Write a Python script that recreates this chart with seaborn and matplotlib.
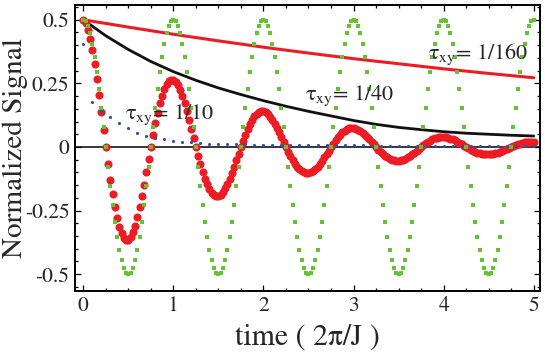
import numpy as np
import matplotlib
matplotlib.use('Agg')
import matplotlib.pyplot as plt
from matplotlib.ticker import MultipleLocator, FixedLocator, FixedFormatter
import seaborn as sns

# time axis samples (units of 2pi/J)
t_osc = np.linspace(0, 5, 201)
t_blue = np.linspace(0, 5, 51)
t_black = np.linspace(0, 5, 21)
t_redline = np.linspace(0, 5, 11)

# green squares: undamped oscillation
green_sig = [
    0.5, 0.494, 0.476, 0.446, 0.405, 0.354, 0.294, 0.227, 0.155, 0.078, 0.0, -0.078, -0.155, -0.227, -0.294, -0.354, -0.405, -0.446, -0.476, -0.494,
    -0.5, -0.494, -0.476, -0.446, -0.405, -0.354, -0.294, -0.227, -0.155, -0.078, 0.0, 0.078, 0.155, 0.227, 0.294, 0.354, 0.405, 0.446, 0.476, 0.494,
    0.5, 0.494, 0.476, 0.446, 0.405, 0.354, 0.294, 0.227, 0.155, 0.078, 0.0, -0.078, -0.155, -0.227, -0.294, -0.354, -0.405, -0.446, -0.476, -0.494,
    -0.5, -0.494, -0.476, -0.446, -0.405, -0.354, -0.294, -0.227, -0.155, -0.078, 0.0, 0.078, 0.155, 0.227, 0.294, 0.354, 0.405, 0.446, 0.476, 0.494,
    0.5, 0.494, 0.476, 0.446, 0.405, 0.354, 0.294, 0.227, 0.155, 0.078, 0.0, -0.078, -0.155, -0.227, -0.294, -0.354, -0.405, -0.446, -0.476, -0.494,
    -0.5, -0.494, -0.476, -0.446, -0.405, -0.354, -0.294, -0.227, -0.155, -0.078, 0.0, 0.078, 0.155, 0.227, 0.294, 0.354, 0.405, 0.446, 0.476, 0.494,
    0.5, 0.494, 0.476, 0.446, 0.405, 0.354, 0.294, 0.227, 0.155, 0.078, 0.0, -0.078, -0.155, -0.227, -0.294, -0.354, -0.405, -0.446, -0.476, -0.494,
    -0.5, -0.494, -0.476, -0.446, -0.405, -0.354, -0.294, -0.227, -0.155, -0.078, 0.0, 0.078, 0.155, 0.227, 0.294, 0.354, 0.405, 0.446, 0.476, 0.494,
    0.5, 0.494, 0.476, 0.446, 0.405, 0.354, 0.294, 0.227, 0.155, 0.078, 0.0, -0.078, -0.155, -0.227, -0.294, -0.354, -0.405, -0.446, -0.476, -0.494,
    -0.5, -0.494, -0.476, -0.446, -0.405, -0.354, -0.294, -0.227, -0.155, -0.078, 0.0, 0.078, 0.155, 0.227, 0.294, 0.354, 0.405, 0.446, 0.476, 0.494,
    0.5]

# red circles: damped oscillation
red_sig = [
    0.500, 0.486, 0.461, 0.425, 0.380, 0.326, 0.267, 0.203, 0.136, 0.068,
    0.000, -0.066, -0.128, -0.185, -0.235, -0.278, -0.314, -0.340, -0.357, -0.365,
    -0.364, -0.353, -0.335, -0.309, -0.276, -0.237, -0.194, -0.148, -0.099, -0.049,
    0.000, 0.048, 0.093, 0.134, 0.171, 0.202, 0.228, 0.247, 0.260, 0.265,
    0.264, 0.257, 0.244, 0.225, 0.201, 0.173, 0.141, 0.107, 0.072, 0.036,
    0.000, -0.035, -0.068, -0.098, -0.124, -0.147, -0.166, -0.180, -0.189, -0.193,
    -0.192, -0.187, -0.177, -0.163, -0.146, -0.126, -0.103, -0.078, -0.052, -0.026,
    0.000, 0.025, 0.049, 0.071, 0.090, 0.107, 0.121, 0.131, 0.137, 0.140,
    0.140, 0.136, 0.129, 0.119, 0.106, 0.091, 0.075, 0.057, 0.038, 0.019,
    0.000, -0.018, -0.036, -0.052, -0.066, -0.078, -0.088, -0.095, -0.100, -0.102,
    -0.102, -0.099, -0.094, -0.086, -0.077, -0.066, -0.054, -0.041, -0.028, -0.014,
    0.000, 0.013, 0.026, 0.038, 0.048, 0.057, 0.064, 0.069, 0.073, 0.074,
    0.074, 0.072, 0.068, 0.063, 0.056, 0.048, 0.040, 0.030, 0.020, 0.010,
    0.000, -0.010, -0.019, -0.027, -0.035, -0.041, -0.046, -0.050, -0.053, -0.054,
    -0.054, -0.052, -0.050, -0.046, -0.041, -0.035, -0.029, -0.022, -0.015, -0.007,
    0.000, 0.007, 0.014, 0.020, 0.025, 0.030, 0.034, 0.037, 0.038, 0.039,
    0.039, 0.038, 0.036, 0.033, 0.030, 0.026, 0.021, 0.016, 0.011, 0.005,
    0.000, -0.005, -0.010, -0.014, -0.018, -0.022, -0.025, -0.027, -0.028, -0.029,
    -0.028, -0.028, -0.026, -0.024, -0.022, -0.019, -0.015, -0.012, -0.008, -0.004,
    0.000, 0.004, 0.007, 0.011, 0.013, 0.016, 0.018, 0.019, 0.020, 0.021,
    0.021]

# blue dots: tau_xy = 1/10
blue_sig = [0.405, 0.176, 0.143, 0.117, 0.093, 0.074, 0.056, 0.044, 0.035, 0.030,
            0.025, 0.021, 0.018, 0.016, 0.013, 0.012, 0.011, 0.010, 0.010, 0.009,
            0.009, 0.008, 0.008, 0.008, 0.007, 0.007, 0.007, 0.007, 0.006, 0.006,
            0.006, 0.006, 0.005, 0.005, 0.005, 0.005, 0.005, 0.005, 0.004, 0.004,
            0.004, 0.004, 0.004, 0.004, 0.004, 0.003, 0.003, 0.003, 0.003, 0.003,
            0.003]

# black curve: tau_xy = 1/40
black_sig = [0.500, 0.437, 0.383, 0.336, 0.296, 0.262, 0.232, 0.206, 0.182, 0.160,
             0.140, 0.122, 0.104, 0.089, 0.077, 0.068, 0.060, 0.054, 0.050, 0.046,
             0.043]

# red line: tau_xy = 1/160
redline_sig = [0.500, 0.471, 0.443, 0.417, 0.392, 0.369, 0.347, 0.327, 0.307, 0.289, 0.272]

xtick_vals = [0, 1, 2, 3, 4, 5]
xtick_labels = ['0', '1', '2', '3', '4', '5']
ytick_vals = [-0.5, -0.25, 0, 0.25, 0.5]
ytick_labels = ['-0.5', '-0.25', '0', '0.25', '0.5']

sns.set_style('ticks')
plt.rcParams['font.family'] = ['STIXGeneral', 'DejaVu Serif']
plt.rcParams['mathtext.fontset'] = 'stix'
plt.rcParams['axes.unicode_minus'] = False

fig = plt.figure(figsize=(5.45, 3.56), dpi=100)
ax = fig.add_axes([0.1376, 0.1826, 0.8541, 0.8034])

ax.axhline(0, color='black', lw=1.1, zorder=2)
sns.lineplot(x=t_redline, y=redline_sig, color='#ec1c24', lw=2.2, ax=ax, zorder=3)
sns.lineplot(x=t_black, y=black_sig, color='#111111', lw=2.0, ax=ax, zorder=3)
sns.scatterplot(x=t_osc, y=red_sig, color='#ec1c24', s=34, marker='o', linewidth=0, ax=ax, zorder=4)
sns.scatterplot(x=t_osc, y=green_sig, color='#66c235', s=11, marker='s', linewidth=0, ax=ax, zorder=5)
sns.scatterplot(x=t_blue, y=blue_sig, color='#2a4db5', s=5, marker='o', linewidth=0, ax=ax, zorder=6)

# labels: upright tau with small xy subscript
ax.text(0.463, 0.109, r'τ$_{\mathrm{xy}}$= 1/10', fontsize=16, ha='left', va='baseline', zorder=7)
ax.text(2.46, 0.186, r'τ$_{\mathrm{xy}}$= 1/40', fontsize=16, ha='left', va='baseline', zorder=7)
ax.text(3.83, 0.344, r'τ$_{\mathrm{xy}}$= 1/160', fontsize=16, ha='left', va='baseline', zorder=7)

ax.set_xlim(-0.092, 5.075)
ax.set_ylim(-0.566, 0.558)
ax.xaxis.set_major_locator(FixedLocator(xtick_vals))
ax.xaxis.set_major_formatter(FixedFormatter(xtick_labels))
ax.yaxis.set_major_locator(FixedLocator(ytick_vals))
ax.yaxis.set_major_formatter(FixedFormatter(ytick_labels))
ax.xaxis.set_minor_locator(MultipleLocator(0.25))
ax.yaxis.set_minor_locator(MultipleLocator(0.05))
ax.tick_params(which='both', direction='in', top=True, right=True, width=0.9, color='black')
ax.tick_params(which='major', length=4.3, labelsize=15.5, pad=4)
ax.tick_params(which='minor', length=2.4)
for sp in ax.spines.values():
    sp.set_linewidth(1.4)
    sp.set_color('black')

ax.set_xlabel('time ( 2π/J )', fontsize=21.5)
ax.set_ylabel('Normalized Signal', fontsize=21)
ax.xaxis.set_label_coords(0.5, -0.115)
ax.yaxis.set_label_coords(-0.1, 0.5)

fig.savefig('out.png', dpi=100)
